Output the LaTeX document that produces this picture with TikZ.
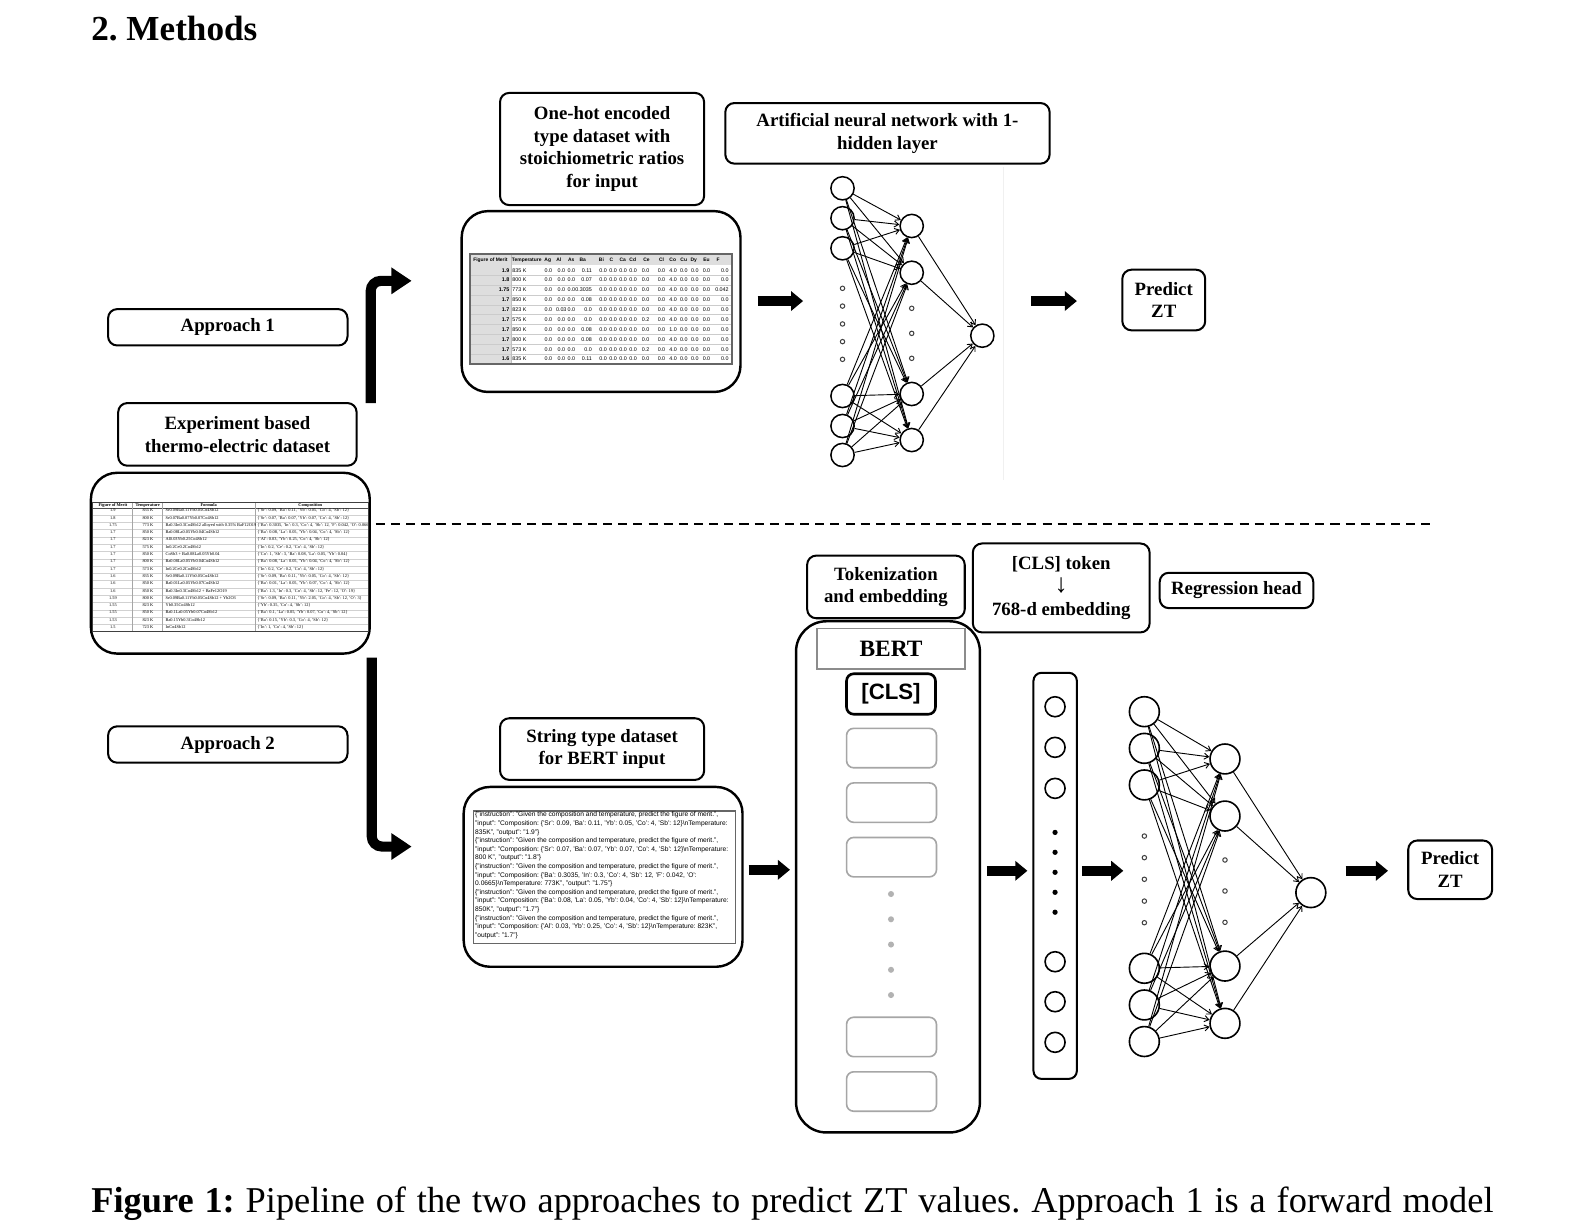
\documentclass[tikz,border=0pt]{standalone}
\usepackage{fontspec}
\setmainfont{Liberation Serif}
\setsansfont{Liberation Sans}
\usetikzlibrary{arrows.meta}
\frenchspacing
\newcommand\tabBrow[5]{%
  \node[tbs,anchor=base] (tb#1a) at (20,{9.7+7.3*(#1-1)}) {#2};%
  \node[tbs,anchor=base east] (tb#1b) at (60.7,{9.7+7.3*(#1-1)}) {#3};%
  \node[tbs,anchor=base west] (tb#1c) at (72.3,{9.7+7.3*(#1-1)}) {#4};%
  \node[tbs,anchor=base west] (tb#1d) at (164,{9.7+7.3*(#1-1)}) {#5};}
\newcommand\sline[2]{\node[sl] (s#1) at (470,{807+8.5*(#1-1)}) {#2};}
\begin{document}
\begin{tikzpicture}[x=0.5pt,y=-0.5pt,
 mybox/.style={draw,line width=1pt,rounded corners=4.5pt,align=center,inner sep=0pt,font=\bfseries\fontsize{9.3}{11.2}\selectfont},
 bigbox/.style={draw,line width=1.2pt,rounded corners=13pt,inner sep=0pt},
 na/.style={circle,draw,line width=0.75pt,inner sep=0pt,minimum size=11.5pt},
 nb/.style={circle,draw,line width=0.8pt,inner sep=0pt,minimum size=14.8pt},
 nv/.style={circle,draw,line width=0.8pt,inner sep=0pt,minimum size=9.9pt},
 nnring/.style={circle,draw=black!75,line width=0.5pt,inner sep=0pt,minimum size=2.2pt},
 vdot/.style={circle,fill=black,inner sep=0pt,minimum size=2.6pt},
 gdot/.style={circle,fill=black!30,inner sep=0pt,minimum size=3pt},
 syn/.style={line width=0.45pt,-{Straight Barb[length=2.2pt,width=3pt]}},
 blk/.style={line width=5pt,-{Triangle[width=9.5pt,length=6pt]}},
 bent/.style={line width=5pt,rounded corners=5pt,-{Triangle[width=12.5pt,length=10pt]}},
 tokbox/.style={draw=black!35,line width=0.8pt,rounded corners=3.5pt,minimum width=44.5pt,minimum height=19.5pt,inner sep=0pt},
 th1/.style={font=\sffamily\bfseries\fontsize{2.45}{3}\selectfont,inner sep=0pt,anchor=base},
 td1/.style={font=\sffamily\fontsize{2.65}{3}\selectfont,inner sep=0pt},
 tbh/.style={font=\bfseries\fontsize{2.15}{2.5}\selectfont,inner sep=0pt,anchor=base},
 tbs/.style={font=\fontsize{2.15}{2.5}\selectfont,inner sep=0pt},
 sl/.style={font=\sffamily\fontsize{3.3}{3.5}\selectfont,inner sep=0pt,anchor=west}
]
\fill[white] (0,0) rectangle (1568,1213);
\useasboundingbox (0,0) rectangle (1568,1213);

% title and caption
\node[anchor=base west,inner sep=0pt,font=\bfseries\fontsize{17.4}{20}\selectfont] (title) at (90,40) {2. Methods};
\node[anchor=base west,inner sep=0pt,font=\fontsize{18}{20}\selectfont] (caption) at (90,1200)
  {\makebox[694pt][s]{\textbf{Figure 1:} Pipeline of the two approaches to predict ZT values. Approach 1 is a forward model}};

% left column
\node[mybox,minimum width=118.5pt,minimum height=18pt] (app1) at (225.5,324) {Approach 1};
\node[mybox,minimum width=118pt,minimum height=31pt] (expds) at (235,430) {Experiment based\\thermo-electric dataset};
\node[bigbox,minimum width=138pt,minimum height=89.5pt] (tab2) at (228,557.5) {};
\node[mybox,minimum width=118.5pt,minimum height=18pt] (app2) at (225.5,737) {Approach 2};

% dataset table
\begin{scope}[shift={(92,497)},xscale=0.99,yscale=0.99]
  \clip (0,0) rectangle (275.3,129);
  \foreach \k in {1,...,17} \draw[black!18,line width=0.2pt] (0,{5.6+7.3*\k}) -- (275.3,{5.6+7.3*\k});
  \draw[black!70,line width=0.4pt] (0,6.6) -- (275.3,6.6);
  \foreach \vx in {39,69,162.3} \draw[black!35,line width=0.3pt] (\vx,0) -- (\vx,129);
  \node[tbh] (tbh1) at (20,4.6) {Figure of Merit};
  \node[tbh] (tbh2) at (54.7,4.6) {Temperature};
  \node[tbh] (tbh3) at (115.7,4.6) {Formula};
  \node[tbh] (tbh4) at (217.3,4.6) {Composition};
  \tabBrow{1}{1.9}{835 K}{Sr0.09Ba0.11Yb0.05Co4Sb12}{\{'Sr': 0.09, 'Ba': 0.11, 'Yb': 0.05, 'Co': 4, 'Sb': 12\}}
  \tabBrow{2}{1.8}{800 K}{Sr0.07Ba0.07Yb0.07Co4Sb12}{\{'Sr': 0.07, 'Ba': 0.07, 'Yb': 0.07, 'Co': 4, 'Sb': 12\}}
  \tabBrow{3}{1.75}{773 K}{Ba0.3In0.3Co4Sb12 alloyed with 0.35\% BaF12O19}{\{'Ba': 0.3035, 'In': 0.3, 'Co': 4, 'Sb': 12, 'F': 0.042, 'O': 0.0665\}}
  \tabBrow{4}{1.7}{850 K}{Ba0.08La0.05Yb0.04Co4Sb12}{\{'Ba': 0.08, 'La': 0.05, 'Yb': 0.04, 'Co': 4, 'Sb': 12\}}
  \tabBrow{5}{1.7}{823 K}{Al0.03Yb0.25Co4Sb12}{\{'Al': 0.03, 'Yb': 0.25, 'Co': 4, 'Sb': 12\}}
  \tabBrow{6}{1.7}{575 K}{In0.2Ce0.2Co4Sb12}{\{'In': 0.2, 'Ce': 0.2, 'Co': 4, 'Sb': 12\}}
  \tabBrow{7}{1.7}{850 K}{CoSb3 + Ba0.08La0.05Yb0.04}{\{'Co': 1, 'Sb': 3, 'Ba': 0.08, 'La': 0.05, 'Yb': 0.04\}}
  \tabBrow{8}{1.7}{800 K}{Ba0.08La0.05Yb0.04Co4Sb12}{\{'Ba': 0.08, 'La': 0.05, 'Yb': 0.04, 'Co': 4, 'Sb': 12\}}
  \tabBrow{9}{1.7}{573 K}{In0.2Ce0.2Co4Sb12}{\{'In': 0.2, 'Ce': 0.2, 'Co': 4, 'Sb': 12\}}
  \tabBrow{10}{1.6}{835 K}{Sr0.09Ba0.11Yb0.05Co4Sb12}{\{'Sr': 0.09, 'Ba': 0.11, 'Yb': 0.05, 'Co': 4, 'Sb': 12\}}
  \tabBrow{11}{1.6}{850 K}{Ba0.01La0.05Yb0.07Co4Sb12}{\{'Ba': 0.01, 'La': 0.05, 'Yb': 0.07, 'Co': 4, 'Sb': 12\}}
  \tabBrow{12}{1.6}{850 K}{Ba0.3In0.3Co4Sb12 + BaFe12O19}{\{'Ba': 1.3, 'In': 0.3, 'Co': 4, 'Sb': 12, 'Fe': 12, 'O': 19\}}
  \tabBrow{13}{1.59}{800 K}{Sr0.09Ba0.11Yb0.05Co4Sb12 + Yb2O3}{\{'Sr': 0.09, 'Ba': 0.11, 'Yb': 2.05, 'Co': 4, 'Sb': 12, 'O': 3\}}
  \tabBrow{14}{1.55}{823 K}{Yb0.35Co4Sb12}{\{'Yb': 0.35, 'Co': 4, 'Sb': 12\}}
  \tabBrow{15}{1.55}{850 K}{Ba0.1La0.05Yb0.07Co4Sb12}{\{'Ba': 0.1, 'La': 0.05, 'Yb': 0.07, 'Co': 4, 'Sb': 12\}}
  \tabBrow{16}{1.53}{823 K}{Ba0.15Yb0.3Co4Sb12}{\{'Ba': 0.15, 'Yb': 0.3, 'Co': 4, 'Sb': 12\}}
  \tabBrow{17}{1.5}{723 K}{InCo4Sb12}{\{'In': 1, 'Co': 4, 'Sb': 12\}}
\end{scope}
\draw[black!75,line width=0.5pt] (92,497) rectangle ({92+275.3*0.99},{497+129*0.99});

% bent arrows
\coordinate (b1s) at (367,399); \coordinate (b1e) at (407.5,278);
\draw[bent] (b1s) |- (b1e);
\coordinate (b2s) at (368,651); \coordinate (b2e) at (407.5,838);
\draw[bent] (b2s) |- (b2e);

% dashed separator
\coordinate (ds) at (372,519); \coordinate (de) at (1422,519);
\draw[line width=0.8pt,dash pattern=on 4.5pt off 3pt] (ds) -- (de);

% ===== Approach 1 =====
\node[mybox,minimum width=101pt,minimum height=55.5pt] (onehot) at (596,147.5) {One-hot encoded\\type dataset with\\stoichiometric ratios\\for input};
\node[mybox,minimum width=160.5pt,minimum height=30pt] (ann) at (878.5,132) {Artificial neural network with 1-\\hidden layer};
\node[bigbox,minimum width=138pt,minimum height=89.5pt] (tab1) at (595,298.5) {};
\node[mybox,minimum width=41pt,minimum height=30pt] (pred1) at (1152,297) {Predict\\ZT};

% one-hot table
\begin{scope}[shift={(465,251.5)},xscale=0.99,yscale=0.99]
  \fill[black!13] (0,0) rectangle (262,11.3);
  \fill[black!13] (0,11.3) rectangle (41,110);
  \foreach \k in {1,...,9} \draw[black!20,line width=0.25pt] (0,{11.3+9.87*\k}) -- (262,{11.3+9.87*\k});
  \draw[black!25,line width=0.25pt] (41,0) -- (41,110);
  \draw[black!60,line width=0.9pt] (0,0) rectangle (262,110);
  \foreach \hn/\hx [count=\c] in {Figure of Merit/20.7,Temperature/57,Ag/78,Al/89,As/101.5,Ba/113,Bi/131.7,C/141.7,Ca/153,Cd/163,Ce/176.7,Cl/191.7,Co/203,Cu/214,Dy/224,Eu/236.7,F/248.3}
    \node[th1] (ta\c) at (\hx,7.4) {\hn};
  \foreach \rowdata [count=\r] in {
    {1.9,835 K,0.0,0.0,0.0,0.11,0.0,0.0,0.0,0.0,0.0,0.0,4.0,0.0,0.0,0.0,0.0},
    {1.8,800 K,0.0,0.0,0.0,0.07,0.0,0.0,0.0,0.0,0.0,0.0,4.0,0.0,0.0,0.0,0.0},
    {1.75,773 K,0.0,0.0,0.0,0.3035,0.0,0.0,0.0,0.0,0.0,0.0,4.0,0.0,0.0,0.0,0.042},
    {1.7,850 K,0.0,0.0,0.0,0.08,0.0,0.0,0.0,0.0,0.0,0.0,4.0,0.0,0.0,0.0,0.0},
    {1.7,823 K,0.0,0.03,0.0,0.0,0.0,0.0,0.0,0.0,0.0,0.0,4.0,0.0,0.0,0.0,0.0},
    {1.7,575 K,0.0,0.0,0.0,0.0,0.0,0.0,0.0,0.0,0.2,0.0,4.0,0.0,0.0,0.0,0.0},
    {1.7,850 K,0.0,0.0,0.0,0.08,0.0,0.0,0.0,0.0,0.0,0.0,1.0,0.0,0.0,0.0,0.0},
    {1.7,800 K,0.0,0.0,0.0,0.08,0.0,0.0,0.0,0.0,0.0,0.0,4.0,0.0,0.0,0.0,0.0},
    {1.7,573 K,0.0,0.0,0.0,0.0,0.0,0.0,0.0,0.0,0.2,0.0,4.0,0.0,0.0,0.0,0.0},
    {1.6,835 K,0.0,0.0,0.0,0.11,0.0,0.0,0.0,0.0,0.0,0.0,4.0,0.0,0.0,0.0,0.0}} {
    \foreach \v [count=\c] in \rowdata {
      \pgfmathsetmacro\xx{{40,42.3,78.5,91.5,101.5,122.5,133.3,143.3,153.3,163.3,180,191.7,203.3,214,225,236.7,259.3}[\c-1]}
      \def\anc{center}\def\fw{}
      \ifnum\c=1\relax\def\anc{east}\def\fw{\bfseries}\fi
      \ifnum\c=2\relax\def\anc{west}\fi
      \ifnum\c=6\relax\def\anc{east}\fi
      \ifnum\c=11\relax\def\anc{east}\fi
      \ifnum\c=17\relax\def\anc{east}\fi
      \node[td1,anchor=\anc] (tc\r-\c) at (\xx,{16.2+9.87*(\r-1)}) {\fw\v};
    }
  }
\end{scope}

\coordinate (a1s) at (750,298); \coordinate (a1e) at (795,298);
\draw[blk] (a1s) -- (a1e);
\coordinate (a2s) at (1021,298); \coordinate (a2e) at (1066,298);
\draw[blk] (a2s) -- (a2e);

% faint image edge
\draw[black!6,line width=0.5pt] (993,165) -- (993,475);

% NN 1
\foreach \y [count=\i] in {186.4,216,245.8,392,421.7,450.4} \node[na] (p\i) at (834,\y) {};
\foreach \y [count=\i] in {223.7,270,390,435.6} \node[na] (q\i) at (902.5,\y) {};
\node[na] (r1) at (972.4,332.3) {};
\foreach \y [count=\i] in {285.4,303,320.7,338.2,355.7} \node[nnring] (pd\i) at (834,\y) {};
\foreach \y [count=\i] in {305.2,330,354.7} \node[nnring] (qd\i) at (902.5,\y) {};
\foreach \i in {1,...,6} \foreach \h in {1,...,4} \draw[syn] (p\i) -- (q\h);
\foreach \h in {1,...,4} \draw[syn] (q\h) -- (r1);

% ===== Approach 2 =====
\node[mybox,minimum width=101pt,minimum height=30.5pt] (strtype) at (596,741.5) {String type dataset\\for BERT input};
\node[bigbox,minimum width=138pt,minimum height=89pt] (strbox) at (597,868) {};
\draw[black!60,line width=0.7pt] (469,803) rectangle (728,934);
\sline{1}{\{"instruction": "Given the composition and temperature, predict the figure of merit.",}
\sline{2}{"input": "Composition: \{'Sr': 0.09, 'Ba': 0.11, 'Yb': 0.05, 'Co': 4, 'Sb': 12\}\textbackslash nTemperature:}
\sline{3}{835K", "output": "1.9"\}}
\sline{4}{\{"instruction": "Given the composition and temperature, predict the figure of merit.",}
\sline{5}{"input": "Composition: \{'Sr': 0.07, 'Ba': 0.07, 'Yb': 0.07, 'Co': 4, 'Sb': 12\}\textbackslash nTemperature:}
\sline{6}{800 K", "output": "1.8"\}}
\sline{7}{\{"instruction": "Given the composition and temperature, predict the figure of merit.",}
\sline{8}{"input": "Composition: \{'Ba': 0.3035, 'In': 0.3, 'Co': 4, 'Sb': 12, 'F': 0.042, 'O':}
\sline{9}{0.0665\}\textbackslash nTemperature: 773K", "output": "1.75"\}}
\sline{10}{\{"instruction": "Given the composition and temperature, predict the figure of merit.",}
\sline{11}{"input": "Composition: \{'Ba': 0.08, 'La': 0.05, 'Yb': 0.04, 'Co': 4, 'Sb': 12\}\textbackslash nTemperature:}
\sline{12}{850K", "output": "1.7"\}}
\sline{13}{\{"instruction": "Given the composition and temperature, predict the figure of merit.",}
\sline{14}{"input": "Composition: \{'Al': 0.03, 'Yb': 0.25, 'Co': 4, 'Sb': 12\}\textbackslash nTemperature: 823K",}
\sline{15}{"output": "1.7"\}}

\coordinate (a3s) at (741,861); \coordinate (a3e) at (782,861);
\draw[blk] (a3s) -- (a3e);

% BERT
\node[mybox,minimum width=78pt,minimum height=31pt] (tok) at (877,581) {Tokenization\\and embedding};
\node[draw,line width=1.2pt,rounded corners=15pt,minimum width=91pt,minimum height=253pt,inner sep=0pt] (bert) at (879,868) {};
\node[draw=black!45,line width=0.8pt,minimum width=73pt,minimum height=20pt,inner sep=0pt,font=\bfseries\fontsize{11.6}{13}\selectfont] (bertlab) at (882,642) {BERT};
\node[draw,line width=1.3pt,rounded corners=3.5pt,minimum width=44pt,minimum height=20pt,inner sep=0pt,font=\sffamily\bfseries\fontsize{11}{13}\selectfont] (cls) at (882,687) {[CLS]};
\foreach \y [count=\i] in {740.5,794.5,848.5,1026.5,1080.5} \node[tokbox] (tk\i) at (882.5,\y) {};
\foreach \y [count=\i] in {885,910,935,960,985} \node[gdot] (bd\i) at (882,\y) {};

\node[mybox,minimum width=87.5pt,minimum height=44pt] (clstok) at (1050.5,582) {[CLS] token\\{\mdseries\fontsize{13}{11.2}\selectfont\char"2193}\\768-d embedding};
\node[mybox,minimum width=76pt,minimum height=17.5pt] (reghead) at (1224,584.5) {Regression head};

\coordinate (a4s) at (977,862); \coordinate (a4e) at (1017,862);
\draw[blk] (a4s) -- (a4e);

% embedding vector
\node[draw,line width=1pt,rounded corners=4pt,minimum width=21.5pt,minimum height=201pt,inner sep=0pt] (vec) at (1044.5,867) {};
\foreach \y [count=\i] in {699.6,739.8,780.4,952,991.6,1031.8} \node[nv] (e\i) at (1044.4,\y) {};
\foreach \y [count=\i] in {824,843.7,863.5,883.3,903} \node[vdot] (ed\i) at (1044.4,\y) {};

\coordinate (a5s) at (1071,862); \coordinate (a5e) at (1112,862);
\draw[blk] (a5s) -- (a5e);

% NN 2
\foreach \y [count=\i] in {704.5,740.8,777,958.5,994.8,1031} \node[nb] (u\i) at (1132.8,\y) {};
\foreach \y [count=\i] in {751.3,807.8,956.3,1013} \node[nb] (v\i) at (1212.6,\y) {};
\node[nb] (w1) at (1297.6,883.6) {};
\foreach \y [count=\i] in {827.6,849,870.4,892,913.4} \node[nnring] (ud\i) at (1132.8,\y) {};
\foreach \y [count=\i] in {851.3,882,913} \node[nnring] (vd\i) at (1212.6,\y) {};
\foreach \i in {1,...,6} \foreach \h in {1,...,4} \draw[syn] (u\i) -- (v\h);
\foreach \h in {1,...,4} \draw[syn] (v\h) -- (w1);

\coordinate (a6s) at (1332,862); \coordinate (a6e) at (1374,862);
\draw[blk] (a6s) -- (a6e);
\node[mybox,minimum width=41.5pt,minimum height=29pt] (pred2) at (1435.5,861) {Predict\\ZT};
\end{tikzpicture}
\end{document}
